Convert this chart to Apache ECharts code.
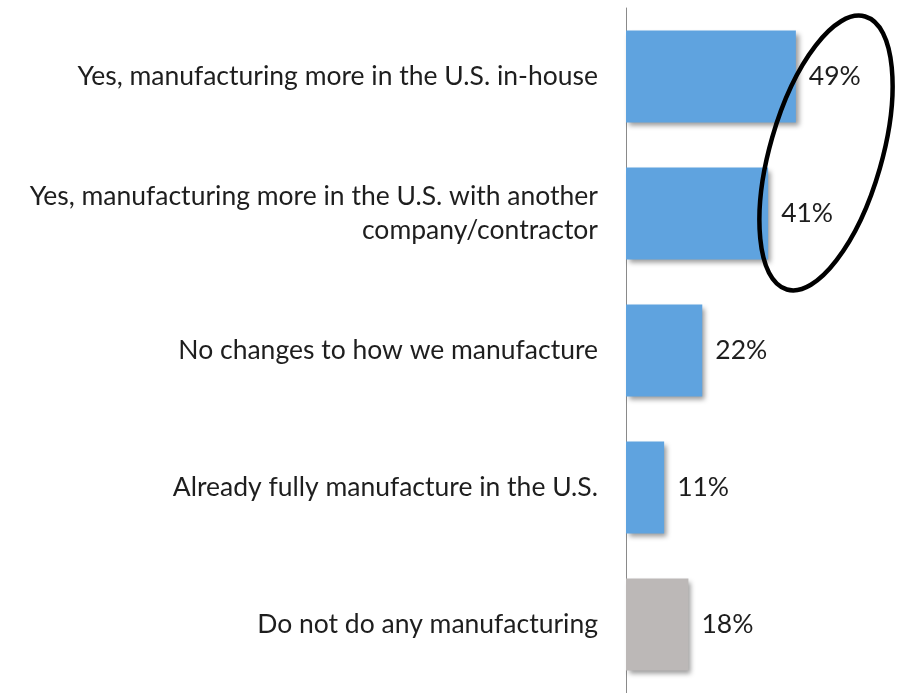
<!DOCTYPE html>
<html>
<head>
<meta charset="utf-8">
<script src="https://cdn.jsdelivr.net/npm/echarts@6/dist/echarts.min.js"></script>
<style>
  html, body { margin: 0; padding: 0; background: #fff; }
  #chart { width: 897px; height: 693px; }
</style>
</head>
<body>
<div id="chart"></div>
<script>
// Survey answers, top to bottom
const categories = [
  'Yes, manufacturing more in the U.S. in-house',
  'Yes, manufacturing more in the U.S. with another\ncompany/contractor',
  'No changes to how we manufacture',
  'Already fully manufacture in the U.S.',
  'Do not do any manufacturing'
];
const shares = [49, 41, 22, 11, 18];
const barColors = ['#5fa3df', '#5fa3df', '#5fa3df', '#5fa3df', '#bcb8b7'];

const FONT = 'Lato';
const chart = echarts.init(document.getElementById('chart'), null, { renderer: 'canvas' });

chart.setOption({
  animation: false,
  backgroundColor: '#ffffff',
  grid: { left: 626, width: 208, top: 8, height: 689, containLabel: false },
  xAxis: {
    type: 'value', min: 0, max: 60,
    show: false
  },
  yAxis: {
    type: 'category',
    inverse: true,
    data: categories,
    axisLine: { show: true, lineStyle: { color: '#8a8a8a', width: 1 } },
    axisTick: { show: false },
    axisLabel: {
      margin: 28,
      fontFamily: FONT,
      fontSize: 26.5,
      lineHeight: 34,
      color: '#1e1e1e',
      align: 'right'
    }
  },
  series: [{
    type: 'bar',
    data: shares.map((v, i) => ({ value: v, itemStyle: { color: barColors[i] } })),
    barWidth: 92,
    itemStyle: {
      shadowColor: 'rgba(0,0,0,0.4)',
      shadowBlur: 5,
      shadowOffsetX: 3,
      shadowOffsetY: 3
    },
    label: {
      show: true,
      position: 'right',
      distance: 13,
      formatter: '{c}%',
      fontFamily: FONT,
      fontSize: 26.5,
      color: '#1e1e1e'
    }
  }],
  graphic: [{
    // hand-drawn emphasis ring around the two "Yes" answers
    type: 'ellipse',
    x: 826,
    y: 153,
    rotation: -16 * Math.PI / 180,
    shape: { cx: 0, cy: 0, rx: 56, ry: 142 },
    style: { fill: 'none', stroke: '#000000', lineWidth: 4.5 },
    z: 100
  }]
});
</script>
</body>
</html>
